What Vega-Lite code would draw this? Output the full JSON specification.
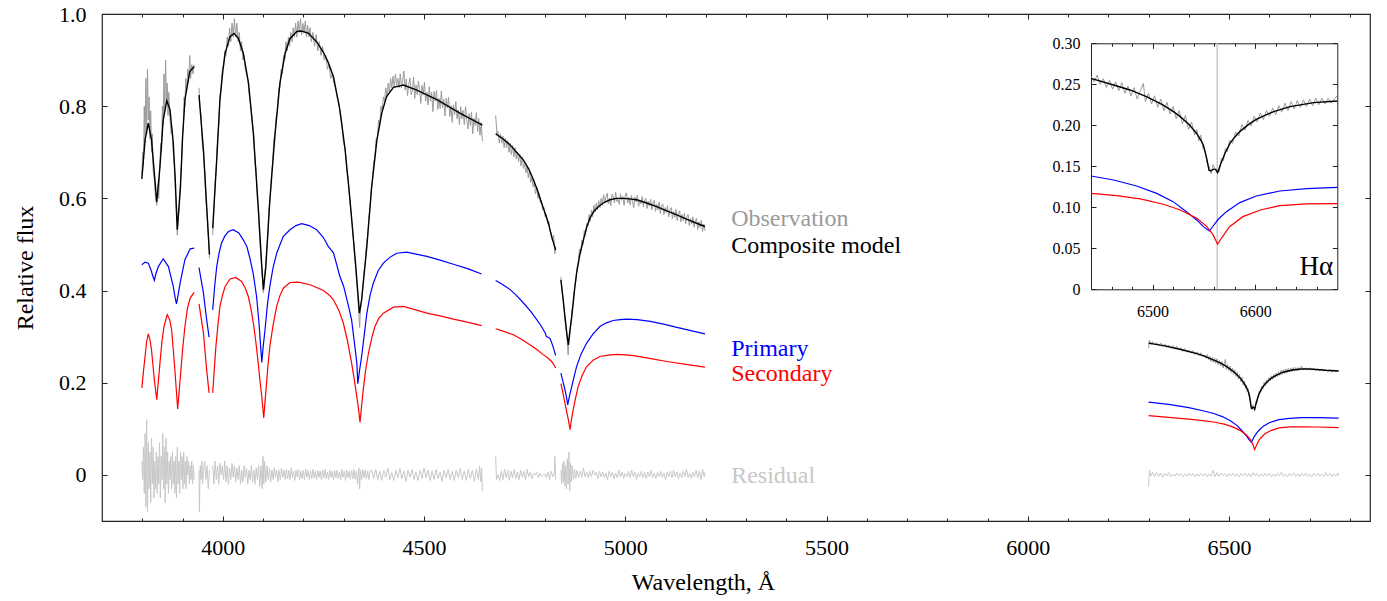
{
"$schema": "https://vega.github.io/schema/vega-lite/v6.json",
"width": 1268, "height": 507,
"autosize": {"type": "none"},
"padding": {"left": 102, "top": 14, "right": 17, "bottom": 80},
"background": "white",
"config": {
  "view": {"stroke": "#222", "strokeWidth": 1.2},
  "font": "Liberation Serif",
  "axis": {"grid": false, "labelFont": "Liberation Serif", "titleFont": "Liberation Serif", "labelColor": "#000", "titleColor": "#000", "tickColor": "#222", "domainColor": "#222", "titleFontWeight": "normal", "labelFontWeight": "normal", "tickWidth": 1}
},
"datasets": {
"comp": [
{"g":"A","w":3799,"f":0.642},{"g":"A","w":3807,"f":0.727},{"g":"A","w":3815,"f":0.763},{"g":"A","w":3823,"f":0.727},{"g":"A","w":3830,"f":0.655},{"g":"A","w":3836,"f":0.592},{"g":"A","w":3844,"f":0.669},{"g":"A","w":3852,"f":0.770},{"g":"A","w":3861,"f":0.812},{"g":"A","w":3869,"f":0.792},{"g":"A","w":3877,"f":0.720},{"g":"A","w":3882,"f":0.640},{"g":"A","w":3887,"f":0.532},{"g":"A","w":3895,"f":0.626},{"g":"A","w":3900,"f":0.730},{"g":"A","w":3906,"f":0.814},{"g":"A","w":3918,"f":0.875},{"g":"A","w":3929,"f":0.886},
{"g":"B","w":3941,"f":0.824},{"g":"B","w":3946,"f":0.770},{"g":"B","w":3952,"f":0.705},{"g":"B","w":3960,"f":0.582},{"g":"B","w":3967,"f":0.478},
{"g":"C","w":3975,"f":0.535},{"g":"C","w":3980,"f":0.610},{"g":"C","w":3985,"f":0.684},{"g":"C","w":3993,"f":0.814},{"g":"C","w":4000,"f":0.875},{"g":"C","w":4006,"f":0.915},{"g":"C","w":4018,"f":0.951},{"g":"C","w":4028,"f":0.958},{"g":"C","w":4039,"f":0.947},{"g":"C","w":4051,"f":0.915},{"g":"C","w":4064,"f":0.850},{"g":"C","w":4076,"f":0.741},{"g":"C","w":4088,"f":0.582},{"g":"C","w":4097,"f":0.452},{"g":"C","w":4101,"f":0.402},{"g":"C","w":4107,"f":0.452},{"g":"C","w":4117,"f":0.597},{"g":"C","w":4130,"f":0.741},{"g":"C","w":4142,"f":0.850},{"g":"C","w":4155,"f":0.915},{"g":"C","w":4167,"f":0.947},{"g":"C","w":4184,"f":0.962},{"g":"C","w":4196,"f":0.963},{"g":"C","w":4213,"f":0.958},{"g":"C","w":4233,"f":0.940},{"g":"C","w":4250,"f":0.917},{"g":"C","w":4262,"f":0.895},{"g":"C","w":4275,"f":0.864},{"g":"C","w":4291,"f":0.792},{"g":"C","w":4304,"f":0.705},{"g":"C","w":4316,"f":0.597},{"g":"C","w":4329,"f":0.467},{"g":"C","w":4337,"f":0.380},{"g":"C","w":4339.5,"f":0.351},{"g":"C","w":4345,"f":0.380},{"g":"C","w":4358,"f":0.496},{"g":"C","w":4370,"f":0.626},{"g":"C","w":4383,"f":0.727},{"g":"C","w":4395,"f":0.785},{"g":"C","w":4407,"f":0.821},{"g":"C","w":4424,"f":0.841},{"g":"C","w":4449,"f":0.846},{"g":"C","w":4482,"f":0.835},{"g":"C","w":4532,"f":0.814},{"g":"C","w":4589,"f":0.785},{"g":"C","w":4645,"f":0.759},
{"g":"D","w":4678,"f":0.740},{"g":"D","w":4695,"f":0.730},{"g":"D","w":4714,"f":0.716},{"g":"D","w":4730,"f":0.700},{"g":"D","w":4747,"f":0.683},{"g":"D","w":4760,"f":0.664},{"g":"D","w":4772,"f":0.640},{"g":"D","w":4782,"f":0.617},{"g":"D","w":4792,"f":0.590},{"g":"D","w":4801,"f":0.567},{"g":"D","w":4809,"f":0.546},{"g":"D","w":4817,"f":0.517},{"g":"D","w":4827,"f":0.488},
{"g":"E","w":4840,"f":0.423},{"g":"E","w":4845,"f":0.385},{"g":"E","w":4850,"f":0.344},{"g":"E","w":4855,"f":0.305},{"g":"E","w":4858.5,"f":0.282},{"g":"E","w":4862,"f":0.310},{"g":"E","w":4867,"f":0.344},{"g":"E","w":4873,"f":0.395},{"g":"E","w":4879,"f":0.438},{"g":"E","w":4887,"f":0.478},{"g":"E","w":4896,"f":0.510},{"g":"E","w":4904,"f":0.537},{"g":"E","w":4912,"f":0.557},{"g":"E","w":4922,"f":0.572},{"g":"E","w":4933,"f":0.582},{"g":"E","w":4947,"f":0.591},{"g":"E","w":4962,"f":0.597},{"g":"E","w":4978,"f":0.600},{"g":"E","w":4995,"f":0.600},{"g":"E","w":5010,"f":0.599},{"g":"E","w":5028,"f":0.597},{"g":"E","w":5053,"f":0.590},{"g":"E","w":5078,"f":0.582},{"g":"E","w":5103,"f":0.573},{"g":"E","w":5128,"f":0.564},{"g":"E","w":5152,"f":0.555},{"g":"E","w":5177,"f":0.546},{"g":"E","w":5198,"f":0.539},
{"g":"F","w":6300,"f":0.286},{"g":"F","w":6340,"f":0.280},{"g":"F","w":6380,"f":0.272},{"g":"F","w":6420,"f":0.263},{"g":"F","w":6440,"f":0.2573},{"g":"F","w":6462,"f":0.2492},{"g":"F","w":6478,"f":0.2431},{"g":"F","w":6494,"f":0.235},{"g":"F","w":6510,"f":0.2248},{"g":"F","w":6520,"f":0.217},{"g":"F","w":6527,"f":0.2106},{"g":"F","w":6536,"f":0.2004},{"g":"F","w":6543,"f":0.19},{"g":"F","w":6547,"f":0.182},{"g":"F","w":6549.5,"f":0.176},{"g":"F","w":6552.7,"f":0.16},{"g":"F","w":6555,"f":0.145},{"g":"F","w":6557,"f":0.1445},{"g":"F","w":6559.5,"f":0.1465},{"g":"F","w":6561.5,"f":0.146},{"g":"F","w":6563.4,"f":0.1423},{"g":"F","w":6566,"f":0.1516},{"g":"F","w":6570.6,"f":0.1659},{"g":"F","w":6575.4,"f":0.178},{"g":"F","w":6580,"f":0.1855},{"g":"F","w":6585,"f":0.1923},{"g":"F","w":6593,"f":0.2005},{"g":"F","w":6601,"f":0.2073},{"g":"F","w":6610,"f":0.2125},{"g":"F","w":6618,"f":0.2167},{"g":"F","w":6634,"f":0.2228},{"g":"F","w":6657,"f":0.2276},{"g":"F","w":6680,"f":0.2297},{"g":"F","w":6700,"f":0.2298},{"g":"F","w":6740,"f":0.227},{"g":"F","w":6772,"f":0.2255}
],
"prim": [
{"g":"A","w":3799,"f":0.456},{"g":"A","w":3807,"f":0.4617},{"g":"A","w":3815,"f":0.4595},{"g":"A","w":3823,"f":0.4414},{"g":"A","w":3826,"f":0.432},{"g":"A","w":3830,"f":0.422},{"g":"A","w":3834,"f":0.437},{"g":"A","w":3840,"f":0.452},{"g":"A","w":3852,"f":0.469},{"g":"A","w":3865,"f":0.452},{"g":"A","w":3877,"f":0.409},{"g":"A","w":3881,"f":0.388},{"g":"A","w":3885,"f":0.371},{"g":"A","w":3889,"f":0.390},{"g":"A","w":3894,"f":0.416},{"g":"A","w":3906,"f":0.467},{"g":"A","w":3919,"f":0.4906},{"g":"A","w":3929,"f":0.492},
{"g":"B","w":3941,"f":0.450},{"g":"B","w":3946,"f":0.425},{"g":"B","w":3952,"f":0.3945},{"g":"B","w":3960,"f":0.3367},{"g":"B","w":3966,"f":0.299},
{"g":"C","w":3975,"f":0.358},{"g":"C","w":3980,"f":0.410},{"g":"C","w":3985,"f":0.452},{"g":"C","w":3991,"f":0.482},{"g":"C","w":3997,"f":0.503},{"g":"C","w":4005,"f":0.518},{"g":"C","w":4014,"f":0.528},{"g":"C","w":4026,"f":0.532},{"g":"C","w":4040,"f":0.525},{"g":"C","w":4051,"f":0.510},{"g":"C","w":4060,"f":0.495},{"g":"C","w":4068,"f":0.468},{"g":"C","w":4076,"f":0.435},{"g":"C","w":4084,"f":0.387},{"g":"C","w":4090,"f":0.33},{"g":"C","w":4094,"f":0.28},{"g":"C","w":4097,"f":0.244},{"g":"C","w":4100,"f":0.275},{"g":"C","w":4105,"f":0.315},{"g":"C","w":4111,"f":0.37},{"g":"C","w":4117,"f":0.409},{"g":"C","w":4125,"f":0.450},{"g":"C","w":4134,"f":0.481},{"g":"C","w":4150,"f":0.517},{"g":"C","w":4167,"f":0.532},{"g":"C","w":4182,"f":0.541},{"g":"C","w":4196,"f":0.545},{"g":"C","w":4215,"f":0.541},{"g":"C","w":4233,"f":0.532},{"g":"C","w":4250,"f":0.515},{"g":"C","w":4262,"f":0.496},{"g":"C","w":4275,"f":0.482},{"g":"C","w":4291,"f":0.4305},{"g":"C","w":4300,"f":0.41},{"g":"C","w":4310,"f":0.375},{"g":"C","w":4320,"f":0.337},{"g":"C","w":4328,"f":0.28},{"g":"C","w":4333,"f":0.243},{"g":"C","w":4335.5,"f":0.198},{"g":"C","w":4340,"f":0.228},{"g":"C","w":4345,"f":0.257},{"g":"C","w":4358,"f":0.351},{"g":"C","w":4366,"f":0.39},{"g":"C","w":4374,"f":0.416},{"g":"C","w":4386,"f":0.443},{"g":"C","w":4399,"f":0.4596},{"g":"C","w":4415,"f":0.472},{"g":"C","w":4432,"f":0.481},{"g":"C","w":4457,"f":0.4834},{"g":"C","w":4480,"f":0.479},{"g":"C","w":4507,"f":0.474},{"g":"C","w":4540,"f":0.466},{"g":"C","w":4573,"f":0.457},{"g":"C","w":4610,"f":0.447},{"g":"C","w":4643,"f":0.436},
{"g":"D","w":4678,"f":0.422},{"g":"D","w":4695,"f":0.413},{"g":"D","w":4714,"f":0.402},{"g":"D","w":4730,"f":0.389},{"g":"D","w":4747,"f":0.373},{"g":"D","w":4765,"f":0.355},{"g":"D","w":4780,"f":0.337},{"g":"D","w":4791,"f":0.323},{"g":"D","w":4801,"f":0.308},{"g":"D","w":4804,"f":0.300},{"g":"D","w":4809,"f":0.298},{"g":"D","w":4813,"f":0.296},{"g":"D","w":4817,"f":0.287},{"g":"D","w":4822,"f":0.274},{"g":"D","w":4827,"f":0.259},
{"g":"E","w":4840,"f":0.221},{"g":"E","w":4845,"f":0.203},{"g":"E","w":4850,"f":0.185},{"g":"E","w":4854,"f":0.168},{"g":"E","w":4857,"f":0.152},{"g":"E","w":4861,"f":0.170},{"g":"E","w":4867,"f":0.192},{"g":"E","w":4873,"f":0.214},{"g":"E","w":4879,"f":0.235},{"g":"E","w":4890,"f":0.262},{"g":"E","w":4904,"f":0.286},{"g":"E","w":4920,"f":0.306},{"g":"E","w":4937,"f":0.322},{"g":"E","w":4953,"f":0.330},{"g":"E","w":4970,"f":0.335},{"g":"E","w":4987,"f":0.337},{"g":"E","w":5004,"f":0.338},{"g":"E","w":5030,"f":0.337},{"g":"E","w":5062,"f":0.333},{"g":"E","w":5095,"f":0.327},{"g":"E","w":5128,"f":0.320},{"g":"E","w":5163,"f":0.313},{"g":"E","w":5198,"f":0.306},
{"g":"F","w":6300,"f":0.158},{"g":"F","w":6350,"f":0.153},{"g":"F","w":6400,"f":0.146},{"g":"F","w":6440,"f":0.1382},{"g":"F","w":6462,"f":0.1333},{"g":"F","w":6484.5,"f":0.126},{"g":"F","w":6504,"f":0.117},{"g":"F","w":6520,"f":0.1069},{"g":"F","w":6533,"f":0.0947},{"g":"F","w":6543,"f":0.0846},{"g":"F","w":6549.5,"f":0.0764},{"g":"F","w":6555.3,"f":0.0711},{"g":"F","w":6559,"f":0.0772},{"g":"F","w":6564,"f":0.0854},{"g":"F","w":6572,"f":0.0947},{"g":"F","w":6585,"f":0.1057},{"g":"F","w":6601,"f":0.1138},{"g":"F","w":6624,"f":0.1199},{"g":"F","w":6650,"f":0.1228},{"g":"F","w":6680,"f":0.1244},{"g":"F","w":6720,"f":0.1245},{"g":"F","w":6772,"f":0.123}
],
"sec": [
{"g":"A","w":3799,"f":0.1886},{"g":"A","w":3803,"f":0.225},{"g":"A","w":3807,"f":0.257},{"g":"A","w":3811,"f":0.290},{"g":"A","w":3815,"f":0.306},{"g":"A","w":3819,"f":0.294},{"g":"A","w":3823,"f":0.2716},{"g":"A","w":3830,"f":0.2066},{"g":"A","w":3836,"f":0.163},{"g":"A","w":3844,"f":0.243},{"g":"A","w":3849,"f":0.29},{"g":"A","w":3854,"f":0.322},{"g":"A","w":3862,"f":0.3475},{"g":"A","w":3868,"f":0.337},{"g":"A","w":3873,"f":0.315},{"g":"A","w":3881,"f":0.228},{"g":"A","w":3888,"f":0.143},{"g":"A","w":3895.5,"f":0.221},{"g":"A","w":3900,"f":0.27},{"g":"A","w":3906,"f":0.322},{"g":"A","w":3912,"f":0.360},{"g":"A","w":3919,"f":0.3837},{"g":"A","w":3929,"f":0.396},
{"g":"B","w":3941,"f":0.371},{"g":"B","w":3946,"f":0.343},{"g":"B","w":3952,"f":0.308},{"g":"B","w":3960,"f":0.228},{"g":"B","w":3966,"f":0.178},
{"g":"C","w":3975,"f":0.178},{"g":"C","w":3979,"f":0.23},{"g":"C","w":3983,"f":0.279},{"g":"C","w":3988,"f":0.325},{"g":"C","w":3993,"f":0.3655},{"g":"C","w":4000,"f":0.392},{"g":"C","w":4006,"f":0.409},{"g":"C","w":4018,"f":0.425},{"g":"C","w":4032,"f":0.4284},{"g":"C","w":4047,"f":0.4197},{"g":"C","w":4056,"f":0.405},{"g":"C","w":4063.5,"f":0.387},{"g":"C","w":4070,"f":0.36},{"g":"C","w":4076,"f":0.3295},{"g":"C","w":4082,"f":0.29},{"g":"C","w":4088,"f":0.243},{"g":"C","w":4093,"f":0.20},{"g":"C","w":4097,"f":0.170},{"g":"C","w":4101.7,"f":0.1235},{"g":"C","w":4107.5,"f":0.185},{"g":"C","w":4112,"f":0.235},{"g":"C","w":4117,"f":0.279},{"g":"C","w":4125,"f":0.325},{"g":"C","w":4134,"f":0.3655},{"g":"C","w":4142,"f":0.389},{"g":"C","w":4150.5,"f":0.405},{"g":"C","w":4167,"f":0.4175},{"g":"C","w":4188,"f":0.4183},{"g":"C","w":4217,"f":0.4125},{"g":"C","w":4250,"f":0.400},{"g":"C","w":4265,"f":0.390},{"g":"C","w":4275,"f":0.380},{"g":"C","w":4288,"f":0.358},{"g":"C","w":4299.5,"f":0.3295},{"g":"C","w":4310,"f":0.29},{"g":"C","w":4320,"f":0.243},{"g":"C","w":4327,"f":0.205},{"g":"C","w":4333,"f":0.170},{"g":"C","w":4337,"f":0.145},{"g":"C","w":4341,"f":0.114},{"g":"C","w":4345,"f":0.150},{"g":"C","w":4349,"f":0.185},{"g":"C","w":4355,"f":0.228},{"g":"C","w":4362,"f":0.2645},{"g":"C","w":4370,"f":0.297},{"g":"C","w":4378,"f":0.322},{"g":"C","w":4388,"f":0.340},{"g":"C","w":4399,"f":0.351},{"g":"C","w":4424,"f":0.364},{"g":"C","w":4449,"f":0.3655},{"g":"C","w":4475,"f":0.359},{"g":"C","w":4507,"f":0.351},{"g":"C","w":4540,"f":0.345},{"g":"C","w":4573,"f":0.338},{"g":"C","w":4610,"f":0.331},{"g":"C","w":4643,"f":0.324},
{"g":"D","w":4678,"f":0.317},{"g":"D","w":4700,"f":0.311},{"g":"D","w":4722,"f":0.304},{"g":"D","w":4743,"f":0.294},{"g":"D","w":4763,"f":0.2825},{"g":"D","w":4780,"f":0.272},{"g":"D","w":4796,"f":0.261},{"g":"D","w":4807,"f":0.254},{"g":"D","w":4817,"f":0.246},{"g":"D","w":4822,"f":0.240},{"g":"D","w":4827,"f":0.232},
{"g":"E","w":4840,"f":0.198},{"g":"E","w":4845,"f":0.178},{"g":"E","w":4850,"f":0.156},{"g":"E","w":4855,"f":0.134},{"g":"E","w":4858.5,"f":0.120},{"g":"E","w":4862.7,"f":0.098},{"g":"E","w":4866,"f":0.118},{"g":"E","w":4869,"f":0.134},{"g":"E","w":4876,"f":0.165},{"g":"E","w":4883,"f":0.192},{"g":"E","w":4893,"f":0.216},{"g":"E","w":4904,"f":0.235},{"g":"E","w":4920,"f":0.249},{"g":"E","w":4937,"f":0.257},{"g":"E","w":4958,"f":0.260},{"g":"E","w":4979,"f":0.2615},{"g":"E","w":5000,"f":0.2605},{"g":"E","w":5020,"f":0.2586},{"g":"E","w":5060,"f":0.253},{"g":"E","w":5103,"f":0.246},{"g":"E","w":5150,"f":0.240},{"g":"E","w":5198,"f":0.234},
{"g":"F","w":6300,"f":0.1285},{"g":"F","w":6350,"f":0.125},{"g":"F","w":6400,"f":0.121},{"g":"F","w":6440,"f":0.1171},{"g":"F","w":6465,"f":0.1142},{"g":"F","w":6488,"f":0.1102},{"g":"F","w":6510.5,"f":0.1037},{"g":"F","w":6527,"f":0.0967},{"g":"F","w":6543,"f":0.0866},{"g":"F","w":6553,"f":0.0764},{"g":"F","w":6559,"f":0.0663},{"g":"F","w":6563.4,"f":0.0549},{"g":"F","w":6567,"f":0.0622},{"g":"F","w":6575,"f":0.0764},{"g":"F","w":6588,"f":0.0886},{"g":"F","w":6605,"f":0.0967},{"g":"F","w":6624,"f":0.102},{"g":"F","w":6650,"f":0.1041},{"g":"F","w":6680,"f":0.1045},{"g":"F","w":6720,"f":0.104},{"g":"F","w":6772,"f":0.1025}
],
"obs": [
{"g":"A","w":3799,"f":0.65},{"g":"A","w":3801,"f":0.70},{"g":"A","w":3803,"f":0.67},{"g":"A","w":3805,"f":0.80},{"g":"A","w":3807,"f":0.72},{"g":"A","w":3809,"f":0.86},{"g":"A","w":3811,"f":0.74},{"g":"A","w":3813,"f":0.88},{"g":"A","w":3815,"f":0.77},{"g":"A","w":3817,"f":0.82},{"g":"A","w":3819,"f":0.73},{"g":"A","w":3821,"f":0.79},{"g":"A","w":3823,"f":0.70},{"g":"A","w":3825,"f":0.74},{"g":"A","w":3827,"f":0.66},{"g":"A","w":3830,"f":0.64},{"g":"A","w":3833,"f":0.60},{"g":"A","w":3836,"f":0.585},{"g":"A","w":3839,"f":0.63},{"g":"A","w":3841,"f":0.60},{"g":"A","w":3844,"f":0.68},{"g":"A","w":3846,"f":0.72},{"g":"A","w":3848,"f":0.70},{"g":"A","w":3850,"f":0.80},{"g":"A","w":3852,"f":0.76},{"g":"A","w":3854,"f":0.87},{"g":"A","w":3856,"f":0.79},{"g":"A","w":3858,"f":0.90},{"g":"A","w":3860,"f":0.81},{"g":"A","w":3862,"f":0.85},{"g":"A","w":3864,"f":0.78},{"g":"A","w":3866,"f":0.83},{"g":"A","w":3869,"f":0.77},{"g":"A","w":3872,"f":0.74},{"g":"A","w":3875,"f":0.75},{"g":"A","w":3877,"f":0.70},{"g":"A","w":3880,"f":0.67},{"g":"A","w":3883,"f":0.60},{"g":"A","w":3885,"f":0.56},{"g":"A","w":3887,"f":0.52},{"g":"A","w":3889,"f":0.545},{"g":"A","w":3892,"f":0.58},{"g":"A","w":3895,"f":0.64},{"g":"A","w":3898,"f":0.68},{"g":"A","w":3900,"f":0.74},{"g":"A","w":3902,"f":0.75},{"g":"A","w":3904,"f":0.82},{"g":"A","w":3906,"f":0.80},{"g":"A","w":3908,"f":0.86},{"g":"A","w":3910,"f":0.83},{"g":"A","w":3913,"f":0.88},{"g":"A","w":3915,"f":0.85},{"g":"A","w":3918,"f":0.91},{"g":"A","w":3920,"f":0.86},{"g":"A","w":3923,"f":0.89},{"g":"A","w":3926,"f":0.87},{"g":"A","w":3929,"f":0.89},
{"g":"B","w":3941,"f":0.84},{"g":"B","w":3943,"f":0.80},{"g":"B","w":3946,"f":0.78},{"g":"B","w":3949,"f":0.72},{"g":"B","w":3952,"f":0.70},{"g":"B","w":3955,"f":0.66},{"g":"B","w":3958,"f":0.60},{"g":"B","w":3961,"f":0.57},{"g":"B","w":3964,"f":0.52},{"g":"B","w":3967,"f":0.47},
{"g":"C","w":3975,"f":0.52},{"g":"C","w":3978,"f":0.57},{"g":"C","w":3981,"f":0.63},{"g":"C","w":3984,"f":0.67},{"g":"C","w":3987,"f":0.73},{"g":"C","w":3990,"f":0.76},{"g":"C","w":3993,"f":0.82},{"g":"C","w":3996,"f":0.84},{"g":"C","w":3999,"f":0.88},{"g":"C","w":4002,"f":0.89},{"g":"C","w":4005,"f":0.92},{"g":"C","w":4008,"f":0.91},{"g":"C","w":4011,"f":0.95},{"g":"C","w":4014,"f":0.93},{"g":"C","w":4017,"f":0.97},{"g":"C","w":4020,"f":0.94},{"g":"C","w":4023,"f":0.98},{"g":"C","w":4026,"f":0.95},{"g":"C","w":4029,"f":0.99},{"g":"C","w":4032,"f":0.95},{"g":"C","w":4035,"f":0.98},{"g":"C","w":4038,"f":0.94},{"g":"C","w":4041,"f":0.96},{"g":"C","w":4044,"f":0.92},{"g":"C","w":4047,"f":0.94},{"g":"C","w":4050,"f":0.90},{"g":"C","w":4053,"f":0.91},{"g":"C","w":4056,"f":0.88},{"g":"C","w":4059,"f":0.87},{"g":"C","w":4062,"f":0.86},{"g":"C","w":4065,"f":0.83},{"g":"C","w":4068,"f":0.81},{"g":"C","w":4071,"f":0.79},{"g":"C","w":4074,"f":0.76},{"g":"C","w":4077,"f":0.74},{"g":"C","w":4080,"f":0.68},{"g":"C","w":4083,"f":0.66},{"g":"C","w":4086,"f":0.60},{"g":"C","w":4089,"f":0.57},{"g":"C","w":4092,"f":0.51},{"g":"C","w":4095,"f":0.47},{"g":"C","w":4098,"f":0.43},{"g":"C","w":4101,"f":0.395},{"g":"C","w":4103,"f":0.42},{"g":"C","w":4106,"f":0.45},{"g":"C","w":4109,"f":0.49},{"g":"C","w":4112,"f":0.52},{"g":"C","w":4115,"f":0.58},{"g":"C","w":4118,"f":0.60},{"g":"C","w":4121,"f":0.65},{"g":"C","w":4124,"f":0.68},{"g":"C","w":4127,"f":0.73},{"g":"C","w":4130,"f":0.74},{"g":"C","w":4133,"f":0.78},{"g":"C","w":4136,"f":0.79},{"g":"C","w":4139,"f":0.84},{"g":"C","w":4142,"f":0.84},{"g":"C","w":4145,"f":0.88},{"g":"C","w":4148,"f":0.87},{"g":"C","w":4151,"f":0.91},{"g":"C","w":4154,"f":0.90},{"g":"C","w":4157,"f":0.94},{"g":"C","w":4160,"f":0.92},{"g":"C","w":4163,"f":0.95},{"g":"C","w":4166,"f":0.93},{"g":"C","w":4169,"f":0.96},{"g":"C","w":4172,"f":0.94},{"g":"C","w":4175,"f":0.97},{"g":"C","w":4178,"f":0.95},{"g":"C","w":4181,"f":0.98},{"g":"C","w":4184,"f":0.95},{"g":"C","w":4187,"f":0.985},{"g":"C","w":4190,"f":0.96},{"g":"C","w":4193,"f":0.99},{"g":"C","w":4196,"f":0.955},{"g":"C","w":4199,"f":0.98},{"g":"C","w":4202,"f":0.96},{"g":"C","w":4205,"f":0.985},{"g":"C","w":4208,"f":0.95},{"g":"C","w":4211,"f":0.975},{"g":"C","w":4214,"f":0.95},{"g":"C","w":4217,"f":0.97},{"g":"C","w":4220,"f":0.94},{"g":"C","w":4224,"f":0.96},{"g":"C","w":4228,"f":0.93},{"g":"C","w":4232,"f":0.955},{"g":"C","w":4236,"f":0.92},{"g":"C","w":4240,"f":0.94},{"g":"C","w":4244,"f":0.91},{"g":"C","w":4248,"f":0.93},{"g":"C","w":4252,"f":0.90},{"g":"C","w":4256,"f":0.91},{"g":"C","w":4260,"f":0.88},{"g":"C","w":4264,"f":0.89},{"g":"C","w":4268,"f":0.86},{"g":"C","w":4272,"f":0.87},{"g":"C","w":4276,"f":0.85},{"g":"C","w":4280,"f":0.84},{"g":"C","w":4284,"f":0.82},{"g":"C","w":4288,"f":0.81},{"g":"C","w":4292,"f":0.78},{"g":"C","w":4296,"f":0.76},{"g":"C","w":4300,"f":0.72},{"g":"C","w":4304,"f":0.71},{"g":"C","w":4308,"f":0.66},{"g":"C","w":4312,"f":0.64},{"g":"C","w":4316,"f":0.59},{"g":"C","w":4320,"f":0.56},{"g":"C","w":4324,"f":0.52},{"g":"C","w":4328,"f":0.47},{"g":"C","w":4332,"f":0.43},{"g":"C","w":4335,"f":0.39},{"g":"C","w":4338,"f":0.35},{"g":"C","w":4340,"f":0.32},{"g":"C","w":4342,"f":0.36},{"g":"C","w":4345,"f":0.38},{"g":"C","w":4348,"f":0.41},{"g":"C","w":4351,"f":0.44},{"g":"C","w":4354,"f":0.46},{"g":"C","w":4357,"f":0.50},{"g":"C","w":4360,"f":0.52},{"g":"C","w":4363,"f":0.56},{"g":"C","w":4366,"f":0.58},{"g":"C","w":4369,"f":0.62},{"g":"C","w":4372,"f":0.64},{"g":"C","w":4375,"f":0.68},{"g":"C","w":4378,"f":0.69},{"g":"C","w":4381,"f":0.73},{"g":"C","w":4384,"f":0.73},{"g":"C","w":4387,"f":0.77},{"g":"C","w":4390,"f":0.76},{"g":"C","w":4393,"f":0.80},{"g":"C","w":4396,"f":0.79},{"g":"C","w":4399,"f":0.82},{"g":"C","w":4402,"f":0.81},{"g":"C","w":4405,"f":0.84},{"g":"C","w":4408,"f":0.82},{"g":"C","w":4411,"f":0.85},{"g":"C","w":4414,"f":0.83},{"g":"C","w":4417,"f":0.86},{"g":"C","w":4420,"f":0.84},{"g":"C","w":4423,"f":0.865},{"g":"C","w":4426,"f":0.84},{"g":"C","w":4429,"f":0.87},{"g":"C","w":4432,"f":0.845},{"g":"C","w":4435,"f":0.86},{"g":"C","w":4438,"f":0.84},{"g":"C","w":4441,"f":0.870},{"g":"C","w":4444,"f":0.840},{"g":"C","w":4447,"f":0.856},{"g":"C","w":4450,"f":0.876},{"g":"C","w":4453,"f":0.835},{"g":"C","w":4456,"f":0.859},{"g":"C","w":4459,"f":0.823},{"g":"C","w":4462,"f":0.847},{"g":"C","w":4465,"f":0.861},{"g":"C","w":4468,"f":0.825},{"g":"C","w":4471,"f":0.834},{"g":"C","w":4474,"f":0.863},{"g":"C","w":4477,"f":0.817},{"g":"C","w":4480,"f":0.846},{"g":"C","w":4483,"f":0.825},{"g":"C","w":4486,"f":0.854},{"g":"C","w":4489,"f":0.837},{"g":"C","w":4492,"f":0.806},{"g":"C","w":4495,"f":0.845},{"g":"C","w":4498,"f":0.824},{"g":"C","w":4501,"f":0.852},{"g":"C","w":4504,"f":0.811},{"g":"C","w":4507,"f":0.830},{"g":"C","w":4510,"f":0.803},{"g":"C","w":4513,"f":0.842},{"g":"C","w":4516,"f":0.811},{"g":"C","w":4519,"f":0.830},{"g":"C","w":4522,"f":0.788},{"g":"C","w":4525,"f":0.832},{"g":"C","w":4528,"f":0.811},{"g":"C","w":4531,"f":0.834},{"g":"C","w":4534,"f":0.793},{"g":"C","w":4537,"f":0.817},{"g":"C","w":4540,"f":0.795},{"g":"C","w":4543,"f":0.833},{"g":"C","w":4546,"f":0.797},{"g":"C","w":4549,"f":0.815},{"g":"C","w":4552,"f":0.779},{"g":"C","w":4555,"f":0.817},{"g":"C","w":4558,"f":0.796},{"g":"C","w":4561,"f":0.819},{"g":"C","w":4564,"f":0.778},{"g":"C","w":4567,"f":0.801},{"g":"C","w":4570,"f":0.765},{"g":"C","w":4573,"f":0.803},{"g":"C","w":4576,"f":0.782},{"g":"C","w":4579,"f":0.810},{"g":"C","w":4582,"f":0.773},{"g":"C","w":4585,"f":0.792},{"g":"C","w":4588,"f":0.760},{"g":"C","w":4591,"f":0.799},{"g":"C","w":4594,"f":0.773},{"g":"C","w":4597,"f":0.791},{"g":"C","w":4600,"f":0.760},{"g":"C","w":4603,"f":0.799},{"g":"C","w":4606,"f":0.772},{"g":"C","w":4609,"f":0.751},{"g":"C","w":4612,"f":0.784},{"g":"C","w":4615,"f":0.758},{"g":"C","w":4618,"f":0.787},{"g":"C","w":4621,"f":0.740},{"g":"C","w":4624,"f":0.774},{"g":"C","w":4627,"f":0.758},{"g":"C","w":4630,"f":0.786},{"g":"C","w":4633,"f":0.745},{"g":"C","w":4636,"f":0.773},{"g":"C","w":4639,"f":0.737},{"g":"C","w":4642,"f":0.765},{"g":"C","w":4645,"f":0.724},
{"g":"D","w":4678,"f":0.78},{"g":"D","w":4681,"f":0.74},{"g":"D","w":4684,"f":0.745},{"g":"D","w":4687,"f":0.72},{"g":"D","w":4690,"f":0.74},{"g":"D","w":4693,"f":0.72},{"g":"D","w":4696,"f":0.735},{"g":"D","w":4699,"f":0.71},{"g":"D","w":4702,"f":0.73},{"g":"D","w":4705,"f":0.71},{"g":"D","w":4708,"f":0.725},{"g":"D","w":4711,"f":0.70},{"g":"D","w":4714,"f":0.72},{"g":"D","w":4717,"f":0.695},{"g":"D","w":4720,"f":0.715},{"g":"D","w":4723,"f":0.69},{"g":"D","w":4726,"f":0.71},{"g":"D","w":4729,"f":0.685},{"g":"D","w":4732,"f":0.70},{"g":"D","w":4735,"f":0.68},{"g":"D","w":4738,"f":0.695},{"g":"D","w":4741,"f":0.67},{"g":"D","w":4744,"f":0.69},{"g":"D","w":4747,"f":0.665},{"g":"D","w":4750,"f":0.675},{"g":"D","w":4753,"f":0.655},{"g":"D","w":4756,"f":0.67},{"g":"D","w":4759,"f":0.645},{"g":"D","w":4762,"f":0.66},{"g":"D","w":4765,"f":0.635},{"g":"D","w":4768,"f":0.645},{"g":"D","w":4771,"f":0.625},{"g":"D","w":4774,"f":0.635},{"g":"D","w":4777,"f":0.61},{"g":"D","w":4780,"f":0.625},{"g":"D","w":4783,"f":0.60},{"g":"D","w":4786,"f":0.61},{"g":"D","w":4789,"f":0.59},{"g":"D","w":4792,"f":0.595},{"g":"D","w":4795,"f":0.575},{"g":"D","w":4798,"f":0.58},{"g":"D","w":4801,"f":0.56},{"g":"D","w":4804,"f":0.565},{"g":"D","w":4807,"f":0.545},{"g":"D","w":4810,"f":0.55},{"g":"D","w":4813,"f":0.53},{"g":"D","w":4816,"f":0.525},{"g":"D","w":4819,"f":0.51},{"g":"D","w":4822,"f":0.52},{"g":"D","w":4825,"f":0.48},{"g":"D","w":4827,"f":0.495},
{"g":"E","w":4840,"f":0.43},{"g":"E","w":4843,"f":0.40},{"g":"E","w":4846,"f":0.38},{"g":"E","w":4849,"f":0.35},{"g":"E","w":4852,"f":0.32},{"g":"E","w":4855,"f":0.30},{"g":"E","w":4858,"f":0.26},{"g":"E","w":4860,"f":0.29},{"g":"E","w":4862,"f":0.30},{"g":"E","w":4865,"f":0.33},{"g":"E","w":4868,"f":0.36},{"g":"E","w":4871,"f":0.37},{"g":"E","w":4874,"f":0.41},{"g":"E","w":4877,"f":0.42},{"g":"E","w":4880,"f":0.45},{"g":"E","w":4883,"f":0.46},{"g":"E","w":4886,"f":0.49},{"g":"E","w":4889,"f":0.48},{"g":"E","w":4892,"f":0.51},{"g":"E","w":4895,"f":0.50},{"g":"E","w":4898,"f":0.53},{"g":"E","w":4901,"f":0.52},{"g":"E","w":4904,"f":0.545},{"g":"E","w":4907,"f":0.54},{"g":"E","w":4910,"f":0.565},{"g":"E","w":4913,"f":0.55},{"g":"E","w":4916,"f":0.575},{"g":"E","w":4919,"f":0.56},{"g":"E","w":4922,"f":0.585},{"g":"E","w":4925,"f":0.57},{"g":"E","w":4928,"f":0.59},{"g":"E","w":4931,"f":0.575},{"g":"E","w":4934,"f":0.595},{"g":"E","w":4937,"f":0.58},{"g":"E","w":4940,"f":0.600},{"g":"E","w":4943,"f":0.585},{"g":"E","w":4946,"f":0.608},{"g":"E","w":4949,"f":0.590},{"g":"E","w":4952,"f":0.603},{"g":"E","w":4955,"f":0.611},{"g":"E","w":4958,"f":0.588},{"g":"E","w":4961,"f":0.600},{"g":"E","w":4964,"f":0.584},{"g":"E","w":4967,"f":0.609},{"g":"E","w":4970,"f":0.604},{"g":"E","w":4973,"f":0.590},{"g":"E","w":4976,"f":0.613},{"g":"E","w":4979,"f":0.593},{"g":"E","w":4982,"f":0.598},{"g":"E","w":4985,"f":0.587},{"g":"E","w":4988,"f":0.610},{"g":"E","w":4991,"f":0.596},{"g":"E","w":4994,"f":0.604},{"g":"E","w":4997,"f":0.585},{"g":"E","w":5000,"f":0.607},{"g":"E","w":5003,"f":0.612},{"g":"E","w":5006,"f":0.590},{"g":"E","w":5009,"f":0.602},{"g":"E","w":5012,"f":0.586},{"g":"E","w":5015,"f":0.606},{"g":"E","w":5018,"f":0.593},{"g":"E","w":5021,"f":0.580},{"g":"E","w":5024,"f":0.603},{"g":"E","w":5027,"f":0.592},{"g":"E","w":5030,"f":0.607},{"g":"E","w":5033,"f":0.583},{"g":"E","w":5036,"f":0.597},{"g":"E","w":5039,"f":0.588},{"g":"E","w":5042,"f":0.604},{"g":"E","w":5045,"f":0.581},{"g":"E","w":5048,"f":0.597},{"g":"E","w":5051,"f":0.600},{"g":"E","w":5054,"f":0.578},{"g":"E","w":5057,"f":0.594},{"g":"E","w":5060,"f":0.583},{"g":"E","w":5063,"f":0.598},{"g":"E","w":5066,"f":0.575},{"g":"E","w":5069,"f":0.590},{"g":"E","w":5072,"f":0.596},{"g":"E","w":5075,"f":0.572},{"g":"E","w":5078,"f":0.587},{"g":"E","w":5081,"f":0.575},{"g":"E","w":5084,"f":0.592},{"g":"E","w":5087,"f":0.567},{"g":"E","w":5090,"f":0.583},{"g":"E","w":5093,"f":0.588},{"g":"E","w":5096,"f":0.565},{"g":"E","w":5099,"f":0.580},{"g":"E","w":5102,"f":0.569},{"g":"E","w":5105,"f":0.584},{"g":"E","w":5108,"f":0.560},{"g":"E","w":5111,"f":0.575},{"g":"E","w":5114,"f":0.580},{"g":"E","w":5117,"f":0.556},{"g":"E","w":5120,"f":0.572},{"g":"E","w":5123,"f":0.559},{"g":"E","w":5126,"f":0.576},{"g":"E","w":5129,"f":0.552},{"g":"E","w":5132,"f":0.568},{"g":"E","w":5135,"f":0.573},{"g":"E","w":5138,"f":0.549},{"g":"E","w":5141,"f":0.565},{"g":"E","w":5144,"f":0.552},{"g":"E","w":5147,"f":0.568},{"g":"E","w":5150,"f":0.545},{"g":"E","w":5153,"f":0.560},{"g":"E","w":5156,"f":0.565},{"g":"E","w":5159,"f":0.541},{"g":"E","w":5162,"f":0.557},{"g":"E","w":5165,"f":0.544},{"g":"E","w":5168,"f":0.560},{"g":"E","w":5171,"f":0.537},{"g":"E","w":5174,"f":0.552},{"g":"E","w":5177,"f":0.557},{"g":"E","w":5180,"f":0.533},{"g":"E","w":5183,"f":0.549},{"g":"E","w":5186,"f":0.537},{"g":"E","w":5189,"f":0.553},{"g":"E","w":5192,"f":0.528},{"g":"E","w":5195,"f":0.544},{"g":"E","w":5198,"f":0.530},
{"g":"F","w":6300,"f":0.275},{"g":"F","w":6302,"f":0.292},{"g":"F","w":6306,"f":0.283},{"g":"F","w":6310,"f":0.289},{"g":"F","w":6315,"f":0.282},{"g":"F","w":6320,"f":0.287},{"g":"F","w":6325,"f":0.280},{"g":"F","w":6330,"f":0.286},{"g":"F","w":6335,"f":0.279},{"g":"F","w":6340,"f":0.284},{"g":"F","w":6345,"f":0.277},{"g":"F","w":6350,"f":0.282},{"g":"F","w":6355,"f":0.275},{"g":"F","w":6360,"f":0.281},{"g":"F","w":6365,"f":0.273},{"g":"F","w":6370,"f":0.279},{"g":"F","w":6375,"f":0.271},{"g":"F","w":6380,"f":0.276},{"g":"F","w":6385,"f":0.268},{"g":"F","w":6390,"f":0.274},{"g":"F","w":6395,"f":0.266},{"g":"F","w":6400,"f":0.271},{"g":"F","w":6405,"f":0.264},{"g":"F","w":6410,"f":0.270},{"g":"F","w":6415,"f":0.261},{"g":"F","w":6420,"f":0.267},{"g":"F","w":6425,"f":0.259},{"g":"F","w":6430,"f":0.265},{"g":"F","w":6435,"f":0.257},{"g":"F","w":6440,"f":0.260},{"g":"F","w":6443,"f":0.253},{"g":"F","w":6446,"f":0.261},{"g":"F","w":6449,"f":0.250},{"g":"F","w":6452,"f":0.257},{"g":"F","w":6455,"f":0.246},{"g":"F","w":6458,"f":0.255},{"g":"F","w":6461,"f":0.244},{"g":"F","w":6464,"f":0.253},{"g":"F","w":6467,"f":0.242},{"g":"F","w":6470,"f":0.252},{"g":"F","w":6473,"f":0.239},{"g":"F","w":6476,"f":0.248},{"g":"F","w":6479,"f":0.236},{"g":"F","w":6482,"f":0.246},{"g":"F","w":6485,"f":0.232},{"g":"F","w":6488,"f":0.242},{"g":"F","w":6491,"f":0.251},{"g":"F","w":6493,"f":0.229},{"g":"F","w":6496,"f":0.239},{"g":"F","w":6499,"f":0.226},{"g":"F","w":6502,"f":0.236},{"g":"F","w":6505,"f":0.222},{"g":"F","w":6508,"f":0.232},{"g":"F","w":6511,"f":0.218},{"g":"F","w":6514,"f":0.228},{"g":"F","w":6517,"f":0.214},{"g":"F","w":6520,"f":0.223},{"g":"F","w":6523,"f":0.208},{"g":"F","w":6526,"f":0.218},{"g":"F","w":6529,"f":0.202},{"g":"F","w":6532,"f":0.212},{"g":"F","w":6535,"f":0.195},{"g":"F","w":6538,"f":0.204},{"g":"F","w":6541,"f":0.188},{"g":"F","w":6543,"f":0.195},{"g":"F","w":6545,"f":0.181},{"g":"F","w":6547,"f":0.188},{"g":"F","w":6549,"f":0.172},{"g":"F","w":6551,"f":0.170},{"g":"F","w":6553,"f":0.155},{"g":"F","w":6555,"f":0.150},{"g":"F","w":6557,"f":0.141},{"g":"F","w":6559,"f":0.152},{"g":"F","w":6561,"f":0.147},{"g":"F","w":6563,"f":0.146},{"g":"F","w":6565,"f":0.143},{"g":"F","w":6567,"f":0.160},{"g":"F","w":6569,"f":0.157},{"g":"F","w":6571,"f":0.172},{"g":"F","w":6573,"f":0.168},{"g":"F","w":6575,"f":0.182},{"g":"F","w":6578,"f":0.178},{"g":"F","w":6581,"f":0.192},{"g":"F","w":6584,"f":0.187},{"g":"F","w":6587,"f":0.201},{"g":"F","w":6590,"f":0.194},{"g":"F","w":6593,"f":0.206},{"g":"F","w":6596,"f":0.199},{"g":"F","w":6599,"f":0.211},{"g":"F","w":6602,"f":0.204},{"g":"F","w":6605,"f":0.215},{"g":"F","w":6608,"f":0.207},{"g":"F","w":6611,"f":0.218},{"g":"F","w":6614,"f":0.211},{"g":"F","w":6617,"f":0.221},{"g":"F","w":6620,"f":0.213},{"g":"F","w":6623,"f":0.224},{"g":"F","w":6626,"f":0.216},{"g":"F","w":6629,"f":0.227},{"g":"F","w":6632,"f":0.218},{"g":"F","w":6635,"f":0.229},{"g":"F","w":6638,"f":0.220},{"g":"F","w":6641,"f":0.230},{"g":"F","w":6644,"f":0.222},{"g":"F","w":6647,"f":0.231},{"g":"F","w":6650,"f":0.223},{"g":"F","w":6653,"f":0.232},{"g":"F","w":6656,"f":0.224},{"g":"F","w":6659,"f":0.233},{"g":"F","w":6662,"f":0.225},{"g":"F","w":6665,"f":0.233},{"g":"F","w":6668,"f":0.226},{"g":"F","w":6671,"f":0.233},{"g":"F","w":6674,"f":0.227},{"g":"F","w":6677,"f":0.232},{"g":"F","w":6680,"f":0.236},{"g":"F","w":6685,"f":0.228},{"g":"F","w":6690,"f":0.232},{"g":"F","w":6695,"f":0.228},{"g":"F","w":6700,"f":0.232},{"g":"F","w":6705,"f":0.228},{"g":"F","w":6710,"f":0.231},{"g":"F","w":6715,"f":0.227},{"g":"F","w":6720,"f":0.230},{"g":"F","w":6725,"f":0.226},{"g":"F","w":6730,"f":0.230},{"g":"F","w":6735,"f":0.225},{"g":"F","w":6740,"f":0.229},{"g":"F","w":6745,"f":0.224},{"g":"F","w":6750,"f":0.228},{"g":"F","w":6755,"f":0.223},{"g":"F","w":6760,"f":0.228},{"g":"F","w":6765,"f":0.224},{"g":"F","w":6770,"f":0.227},{"g":"F","w":6772,"f":0.224}
],
"res": [
{"g":"A","w":3799,"f":0.03},{"g":"A","w":3801,"f":-0.01},{"g":"A","w":3803,"f":0.06},{"g":"A","w":3805,"f":-0.04},{"g":"A","w":3807,"f":0.09},{"g":"A","w":3809,"f":-0.07},{"g":"A","w":3811,"f":0.12},{"g":"A","w":3813,"f":-0.08},{"g":"A","w":3815,"f":0.07},{"g":"A","w":3817,"f":-0.03},{"g":"A","w":3819,"f":0.05},{"g":"A","w":3821,"f":-0.06},{"g":"A","w":3823,"f":0.08},{"g":"A","w":3825,"f":-0.02},{"g":"A","w":3827,"f":0.06},{"g":"A","w":3829,"f":-0.05},{"g":"A","w":3831,"f":0.03},{"g":"A","w":3833,"f":-0.03},{"g":"A","w":3835,"f":0.05},{"g":"A","w":3837,"f":-0.04},{"g":"A","w":3839,"f":0.04},{"g":"A","w":3841,"f":-0.02},{"g":"A","w":3843,"f":0.07},{"g":"A","w":3845,"f":-0.05},{"g":"A","w":3847,"f":0.04},{"g":"A","w":3849,"f":-0.01},{"g":"A","w":3851,"f":0.09},{"g":"A","w":3853,"f":-0.03},{"g":"A","w":3855,"f":0.06},{"g":"A","w":3857,"f":-0.06},{"g":"A","w":3859,"f":0.08},{"g":"A","w":3861,"f":-0.02},{"g":"A","w":3863,"f":0.05},{"g":"A","w":3865,"f":-0.04},{"g":"A","w":3867,"f":0.03},{"g":"A","w":3869,"f":-0.01},{"g":"A","w":3871,"f":0.04},{"g":"A","w":3873,"f":-0.03},{"g":"A","w":3875,"f":0.05},{"g":"A","w":3877,"f":-0.02},{"g":"A","w":3879,"f":0.03},{"g":"A","w":3881,"f":-0.04},{"g":"A","w":3883,"f":0.04},{"g":"A","w":3885,"f":-0.05},{"g":"A","w":3887,"f":0.06},{"g":"A","w":3889,"f":-0.02},{"g":"A","w":3891,"f":0.03},{"g":"A","w":3893,"f":-0.04},{"g":"A","w":3895,"f":0.05},{"g":"A","w":3897,"f":-0.01},{"g":"A","w":3899,"f":0.04},{"g":"A","w":3901,"f":-0.03},{"g":"A","w":3903,"f":0.05},{"g":"A","w":3905,"f":-0.02},{"g":"A","w":3907,"f":0.03},{"g":"A","w":3909,"f":-0.03},{"g":"A","w":3911,"f":0.04},{"g":"A","w":3913,"f":0.0},{"g":"A","w":3915,"f":0.03},{"g":"A","w":3917,"f":-0.02},{"g":"A","w":3919,"f":0.02},{"g":"A","w":3921,"f":-0.01},{"g":"A","w":3923,"f":0.03},{"g":"A","w":3925,"f":-0.02},{"g":"A","w":3927,"f":0.02},{"g":"A","w":3929,"f":-0.01},
{"g":"B","w":3941,"f":0.01},{"g":"B","w":3942,"f":-0.08},{"g":"B","w":3944,"f":0.02},{"g":"B","w":3946,"f":-0.01},{"g":"B","w":3948,"f":0.03},{"g":"B","w":3950,"f":-0.02},{"g":"B","w":3952,"f":0.01},{"g":"B","w":3955,"f":0.03},{"g":"B","w":3958,"f":-0.01},{"g":"B","w":3961,"f":0.02},{"g":"B","w":3964,"f":-0.03},{"g":"B","w":3967,"f":0.01},
{"g":"C","w":3975,"f":0.02},{"g":"C","w":3978,"f":-0.02},{"g":"C","w":3981,"f":0.03},{"g":"C","w":3984,"f":-0.01},{"g":"C","w":3987,"f":0.02},{"g":"C","w":3990,"f":-0.02},{"g":"C","w":3993,"f":0.025},{"g":"C","w":3996,"f":0.0},{"g":"C","w":3999,"f":0.02},{"g":"C","w":4002,"f":-0.01},{"g":"C","w":4005,"f":0.03},{"g":"C","w":4008,"f":-0.015},{"g":"C","w":4011,"f":0.02},{"g":"C","w":4014,"f":-0.02},{"g":"C","w":4017,"f":0.015},{"g":"C","w":4020,"f":-0.01},{"g":"C","w":4023,"f":0.025},{"g":"C","w":4026,"f":-0.005},{"g":"C","w":4029,"f":0.02},{"g":"C","w":4032,"f":-0.015},{"g":"C","w":4035,"f":0.015},{"g":"C","w":4038,"f":-0.01},{"g":"C","w":4041,"f":0.02},{"g":"C","w":4044,"f":-0.02},{"g":"C","w":4047,"f":0.01},{"g":"C","w":4050,"f":-0.015},{"g":"C","w":4053,"f":0.02},{"g":"C","w":4056,"f":-0.005},{"g":"C","w":4059,"f":0.015},{"g":"C","w":4062,"f":-0.02},{"g":"C","w":4065,"f":0.01},{"g":"C","w":4068,"f":-0.01},{"g":"C","w":4071,"f":0.02},{"g":"C","w":4074,"f":-0.015},{"g":"C","w":4077,"f":0.01},{"g":"C","w":4080,"f":-0.02},{"g":"C","w":4083,"f":0.015},{"g":"C","w":4086,"f":-0.01},{"g":"C","w":4089,"f":0.02},{"g":"C","w":4092,"f":-0.025},{"g":"C","w":4095,"f":0.02},{"g":"C","w":4098,"f":-0.03},{"g":"C","w":4100,"f":0.04},{"g":"C","w":4102,"f":-0.02},{"g":"C","w":4104,"f":0.03},{"g":"C","w":4107,"f":-0.015},{"g":"C","w":4110,"f":0.02},{"g":"C","w":4113,"f":-0.01},{"g":"C","w":4116,"f":0.015},{"g":"C","w":4119,"f":-0.015},{"g":"C","w":4122,"f":0.01},{"g":"C","w":4125,"f":-0.01},{"g":"C","w":4128,"f":0.015},{"g":"C","w":4131,"f":-0.005},{"g":"C","w":4134,"f":0.01},{"g":"C","w":4137,"f":-0.015},{"g":"C","w":4140,"f":0.01},{"g":"C","w":4143,"f":-0.01},{"g":"C","w":4146,"f":0.015},{"g":"C","w":4149,"f":-0.005},{"g":"C","w":4152,"f":0.01},{"g":"C","w":4155,"f":-0.01},{"g":"C","w":4158,"f":0.012},{"g":"C","w":4161,"f":-0.008},{"g":"C","w":4164,"f":0.01},{"g":"C","w":4167,"f":-0.01},{"g":"C","w":4170,"f":0.015},{"g":"C","w":4173,"f":-0.005},{"g":"C","w":4176,"f":0.008},{"g":"C","w":4179,"f":-0.012},{"g":"C","w":4182,"f":0.01},{"g":"C","w":4185,"f":-0.005},{"g":"C","w":4188,"f":0.012},{"g":"C","w":4191,"f":-0.01},{"g":"C","w":4194,"f":0.008},{"g":"C","w":4197,"f":-0.008},{"g":"C","w":4200,"f":0.01},{"g":"C","w":4203,"f":-0.01},{"g":"C","w":4206,"f":0.012},{"g":"C","w":4209,"f":-0.005},{"g":"C","w":4212,"f":0.01},{"g":"C","w":4215,"f":-0.01},{"g":"C","w":4218,"f":0.008},{"g":"C","w":4221,"f":-0.008},{"g":"C","w":4224,"f":0.012},{"g":"C","w":4227,"f":-0.006},{"g":"C","w":4230,"f":0.008},{"g":"C","w":4233,"f":-0.01},{"g":"C","w":4236,"f":0.01},{"g":"C","w":4239,"f":-0.005},{"g":"C","w":4242,"f":0.008},{"g":"C","w":4245,"f":-0.01},{"g":"C","w":4248,"f":0.01},{"g":"C","w":4251,"f":-0.006},{"g":"C","w":4254,"f":0.012},{"g":"C","w":4257,"f":-0.008},{"g":"C","w":4260,"f":0.006},{"g":"C","w":4263,"f":-0.01},{"g":"C","w":4266,"f":0.01},{"g":"C","w":4269,"f":-0.005},{"g":"C","w":4272,"f":0.008},{"g":"C","w":4275,"f":-0.01},{"g":"C","w":4278,"f":0.01},{"g":"C","w":4281,"f":-0.006},{"g":"C","w":4284,"f":0.01},{"g":"C","w":4287,"f":-0.008},{"g":"C","w":4290,"f":0.006},{"g":"C","w":4293,"f":-0.01},{"g":"C","w":4296,"f":0.012},{"g":"C","w":4299,"f":-0.005},{"g":"C","w":4302,"f":0.008},{"g":"C","w":4305,"f":-0.012},{"g":"C","w":4308,"f":0.01},{"g":"C","w":4311,"f":-0.006},{"g":"C","w":4314,"f":0.008},{"g":"C","w":4317,"f":-0.01},{"g":"C","w":4320,"f":0.01},{"g":"C","w":4323,"f":-0.008},{"g":"C","w":4326,"f":0.012},{"g":"C","w":4329,"f":-0.01},{"g":"C","w":4332,"f":0.008},{"g":"C","w":4335,"f":-0.02},{"g":"C","w":4338,"f":0.015},{"g":"C","w":4340,"f":-0.03},{"g":"C","w":4342,"f":0.01},{"g":"C","w":4345,"f":-0.01},{"g":"C","w":4348,"f":0.012},{"g":"C","w":4351,"f":-0.006},{"g":"C","w":4354,"f":0.01},{"g":"C","w":4357,"f":-0.008},{"g":"C","w":4360,"f":0.008},{"g":"C","w":4363,"f":-0.01},{"g":"C","w":4366,"f":0.01},{"g":"C","w":4370,"f":0.01},{"g":"C","w":4375,"f":-0.008},{"g":"C","w":4380,"f":0.012},{"g":"C","w":4385,"f":-0.01},{"g":"C","w":4390,"f":0.008},{"g":"C","w":4395,"f":-0.012},{"g":"C","w":4400,"f":0.01},{"g":"C","w":4405,"f":-0.005},{"g":"C","w":4410,"f":0.015},{"g":"C","w":4415,"f":-0.01},{"g":"C","w":4420,"f":0.005},{"g":"C","w":4425,"f":-0.012},{"g":"C","w":4430,"f":0.01},{"g":"C","w":4435,"f":-0.006},{"g":"C","w":4440,"f":0.014},{"g":"C","w":4445,"f":-0.008},{"g":"C","w":4450,"f":0.008},{"g":"C","w":4455,"f":-0.014},{"g":"C","w":4460,"f":0.01},{"g":"C","w":4465,"f":-0.005},{"g":"C","w":4470,"f":0.012},{"g":"C","w":4475,"f":-0.01},{"g":"C","w":4480,"f":0.006},{"g":"C","w":4485,"f":-0.012},{"g":"C","w":4490,"f":0.01},{"g":"C","w":4495,"f":-0.008},{"g":"C","w":4500,"f":0.015},{"g":"C","w":4505,"f":-0.006},{"g":"C","w":4510,"f":0.01},{"g":"C","w":4515,"f":-0.012},{"g":"C","w":4520,"f":0.008},{"g":"C","w":4525,"f":-0.01},{"g":"C","w":4530,"f":0.012},{"g":"C","w":4535,"f":-0.008},{"g":"C","w":4540,"f":0.006},{"g":"C","w":4545,"f":-0.014},{"g":"C","w":4550,"f":0.01},{"g":"C","w":4555,"f":-0.006},{"g":"C","w":4560,"f":0.012},{"g":"C","w":4565,"f":-0.01},{"g":"C","w":4570,"f":0.008},{"g":"C","w":4575,"f":-0.012},{"g":"C","w":4580,"f":0.01},{"g":"C","w":4585,"f":-0.006},{"g":"C","w":4590,"f":0.014},{"g":"C","w":4595,"f":-0.01},{"g":"C","w":4600,"f":0.008},{"g":"C","w":4605,"f":-0.012},{"g":"C","w":4610,"f":0.012},{"g":"C","w":4615,"f":-0.008},{"g":"C","w":4620,"f":0.01},{"g":"C","w":4625,"f":-0.014},{"g":"C","w":4630,"f":0.012},{"g":"C","w":4635,"f":-0.01},{"g":"C","w":4638,"f":0.02},{"g":"C","w":4641,"f":-0.015},{"g":"C","w":4643,"f":0.015},{"g":"C","w":4645,"f":-0.035},
{"g":"D","w":4678,"f":0.04},{"g":"D","w":4680,"f":-0.01},{"g":"D","w":4684,"f":0.0},{"g":"D","w":4688,"f":-0.012},{"g":"D","w":4692,"f":0.008},{"g":"D","w":4696,"f":-0.01},{"g":"D","w":4700,"f":0.012},{"g":"D","w":4704,"f":-0.006},{"g":"D","w":4708,"f":0.01},{"g":"D","w":4712,"f":-0.012},{"g":"D","w":4716,"f":0.008},{"g":"D","w":4720,"f":-0.006},{"g":"D","w":4724,"f":0.012},{"g":"D","w":4728,"f":-0.008},{"g":"D","w":4732,"f":0.006},{"g":"D","w":4736,"f":-0.01},{"g":"D","w":4740,"f":0.01},{"g":"D","w":4744,"f":-0.005},{"g":"D","w":4748,"f":0.008},{"g":"D","w":4752,"f":-0.01},{"g":"D","w":4756,"f":0.012},{"g":"D","w":4760,"f":-0.004},{"g":"D","w":4764,"f":0.006},{"g":"D","w":4768,"f":-0.008},{"g":"D","w":4772,"f":0.004},{"g":"D","w":4776,"f":0.0},{"g":"D","w":4780,"f":0.006},{"g":"D","w":4784,"f":-0.006},{"g":"D","w":4788,"f":0.004},{"g":"D","w":4792,"f":-0.004},{"g":"D","w":4796,"f":0.0},{"g":"D","w":4800,"f":0.002},{"g":"D","w":4804,"f":-0.006},{"g":"D","w":4808,"f":0.006},{"g":"D","w":4812,"f":-0.01},{"g":"D","w":4816,"f":0.008},{"g":"D","w":4820,"f":-0.004},{"g":"D","w":4824,"f":0.002},{"g":"D","w":4825,"f":0.04},{"g":"D","w":4827,"f":-0.01},
{"g":"E","w":4840,"f":0.01},{"g":"E","w":4842,"f":-0.02},{"g":"E","w":4844,"f":0.025},{"g":"E","w":4846,"f":-0.015},{"g":"E","w":4848,"f":0.03},{"g":"E","w":4850,"f":-0.025},{"g":"E","w":4852,"f":0.02},{"g":"E","w":4854,"f":-0.03},{"g":"E","w":4856,"f":0.035},{"g":"E","w":4858,"f":-0.02},{"g":"E","w":4860,"f":0.05},{"g":"E","w":4862,"f":-0.035},{"g":"E","w":4864,"f":0.025},{"g":"E","w":4866,"f":-0.015},{"g":"E","w":4868,"f":0.02},{"g":"E","w":4871,"f":-0.01},{"g":"E","w":4874,"f":0.012},{"g":"E","w":4877,"f":-0.008},{"g":"E","w":4880,"f":0.01},{"g":"E","w":4884,"f":-0.006},{"g":"E","w":4888,"f":0.008},{"g":"E","w":4892,"f":-0.005},{"g":"E","w":4896,"f":0.015},{"g":"E","w":4900,"f":-0.004},{"g":"E","w":4904,"f":0.006},{"g":"E","w":4908,"f":-0.006},{"g":"E","w":4912,"f":0.008},{"g":"E","w":4916,"f":-0.004},{"g":"E","w":4920,"f":0.01},{"g":"E","w":4924,"f":0.0},{"g":"E","w":4928,"f":0.006},{"g":"E","w":4932,"f":-0.008},{"g":"E","w":4936,"f":0.008},{"g":"E","w":4940,"f":-0.004},{"g":"E","w":4944,"f":0.006},{"g":"E","w":4948,"f":-0.006},{"g":"E","w":4952,"f":0.004},{"g":"E","w":4956,"f":-0.01},{"g":"E","w":4960,"f":0.008},{"g":"E","w":4964,"f":-0.004},{"g":"E","w":4968,"f":0.006},{"g":"E","w":4972,"f":-0.008},{"g":"E","w":4976,"f":0.004},{"g":"E","w":4980,"f":-0.006},{"g":"E","w":4984,"f":0.01},{"g":"E","w":4988,"f":-0.004},{"g":"E","w":4992,"f":0.006},{"g":"E","w":4996,"f":-0.008},{"g":"E","w":5000,"f":0.004},{"g":"E","w":5004,"f":-0.004},{"g":"E","w":5008,"f":0.008},{"g":"E","w":5012,"f":-0.006},{"g":"E","w":5016,"f":0.01},{"g":"E","w":5020,"f":-0.004},{"g":"E","w":5024,"f":0.006},{"g":"E","w":5028,"f":-0.01},{"g":"E","w":5032,"f":0.004},{"g":"E","w":5036,"f":-0.004},{"g":"E","w":5040,"f":0.008},{"g":"E","w":5044,"f":-0.006},{"g":"E","w":5048,"f":0.006},{"g":"E","w":5052,"f":-0.008},{"g":"E","w":5056,"f":0.006},{"g":"E","w":5060,"f":-0.004},{"g":"E","w":5064,"f":0.01},{"g":"E","w":5068,"f":-0.006},{"g":"E","w":5072,"f":0.004},{"g":"E","w":5076,"f":-0.008},{"g":"E","w":5080,"f":0.006},{"g":"E","w":5084,"f":-0.004},{"g":"E","w":5088,"f":0.008},{"g":"E","w":5092,"f":-0.006},{"g":"E","w":5096,"f":0.004},{"g":"E","w":5100,"f":-0.01},{"g":"E","w":5104,"f":0.006},{"g":"E","w":5108,"f":-0.004},{"g":"E","w":5112,"f":0.008},{"g":"E","w":5116,"f":-0.006},{"g":"E","w":5120,"f":0.01},{"g":"E","w":5124,"f":-0.004},{"g":"E","w":5128,"f":0.006},{"g":"E","w":5132,"f":-0.008},{"g":"E","w":5136,"f":0.004},{"g":"E","w":5140,"f":-0.006},{"g":"E","w":5144,"f":0.008},{"g":"E","w":5148,"f":-0.004},{"g":"E","w":5152,"f":0.012},{"g":"E","w":5156,"f":-0.006},{"g":"E","w":5160,"f":0.004},{"g":"E","w":5164,"f":-0.008},{"g":"E","w":5168,"f":0.006},{"g":"E","w":5172,"f":-0.004},{"g":"E","w":5176,"f":0.01},{"g":"E","w":5180,"f":-0.006},{"g":"E","w":5184,"f":0.008},{"g":"E","w":5188,"f":-0.01},{"g":"E","w":5192,"f":0.012},{"g":"E","w":5196,"f":-0.004},{"g":"E","w":5198,"f":0.006},
{"g":"F","w":6300,"f":-0.025},{"g":"F","w":6302,"f":0.01},{"g":"F","w":6306,"f":-0.002},{"g":"F","w":6310,"f":0.006},{"g":"F","w":6315,"f":-0.004},{"g":"F","w":6320,"f":0.005},{"g":"F","w":6325,"f":-0.003},{"g":"F","w":6330,"f":0.004},{"g":"F","w":6335,"f":-0.005},{"g":"F","w":6340,"f":0.003},{"g":"F","w":6345,"f":-0.002},{"g":"F","w":6350,"f":0.005},{"g":"F","w":6355,"f":-0.004},{"g":"F","w":6360,"f":0.002},{"g":"F","w":6365,"f":-0.003},{"g":"F","w":6370,"f":0.004},{"g":"F","w":6375,"f":-0.002},{"g":"F","w":6380,"f":0.003},{"g":"F","w":6385,"f":-0.004},{"g":"F","w":6390,"f":0.002},{"g":"F","w":6395,"f":-0.003},{"g":"F","w":6400,"f":0.004},{"g":"F","w":6405,"f":-0.002},{"g":"F","w":6410,"f":0.003},{"g":"F","w":6415,"f":-0.004},{"g":"F","w":6420,"f":0.002},{"g":"F","w":6425,"f":-0.003},{"g":"F","w":6430,"f":0.003},{"g":"F","w":6435,"f":-0.002},{"g":"F","w":6440,"f":0.003},{"g":"F","w":6445,"f":-0.004},{"g":"F","w":6450,"f":0.002},{"g":"F","w":6455,"f":-0.003},{"g":"F","w":6460,"f":0.01},{"g":"F","w":6465,"f":-0.004},{"g":"F","w":6470,"f":0.005},{"g":"F","w":6475,"f":-0.003},{"g":"F","w":6480,"f":0.004},{"g":"F","w":6485,"f":-0.002},{"g":"F","w":6490,"f":0.003},{"g":"F","w":6495,"f":-0.004},{"g":"F","w":6500,"f":0.003},{"g":"F","w":6505,"f":-0.002},{"g":"F","w":6510,"f":0.004},{"g":"F","w":6515,"f":-0.003},{"g":"F","w":6520,"f":0.002},{"g":"F","w":6525,"f":-0.004},{"g":"F","w":6530,"f":0.003},{"g":"F","w":6535,"f":-0.002},{"g":"F","w":6540,"f":0.004},{"g":"F","w":6545,"f":-0.003},{"g":"F","w":6550,"f":0.003},{"g":"F","w":6555,"f":-0.004},{"g":"F","w":6560,"f":0.005},{"g":"F","w":6565,"f":-0.002},{"g":"F","w":6570,"f":0.003},{"g":"F","w":6575,"f":-0.004},{"g":"F","w":6580,"f":0.002},{"g":"F","w":6585,"f":-0.003},{"g":"F","w":6590,"f":0.004},{"g":"F","w":6595,"f":-0.002},{"g":"F","w":6600,"f":0.003},{"g":"F","w":6605,"f":-0.004},{"g":"F","w":6610,"f":0.002},{"g":"F","w":6615,"f":-0.003},{"g":"F","w":6620,"f":0.004},{"g":"F","w":6625,"f":-0.002},{"g":"F","w":6630,"f":0.006},{"g":"F","w":6635,"f":-0.003},{"g":"F","w":6640,"f":0.002},{"g":"F","w":6645,"f":-0.004},{"g":"F","w":6650,"f":0.003},{"g":"F","w":6655,"f":-0.002},{"g":"F","w":6660,"f":0.004},{"g":"F","w":6665,"f":-0.003},{"g":"F","w":6670,"f":0.002},{"g":"F","w":6675,"f":-0.004},{"g":"F","w":6680,"f":0.003},{"g":"F","w":6685,"f":-0.002},{"g":"F","w":6690,"f":0.004},{"g":"F","w":6695,"f":-0.003},{"g":"F","w":6700,"f":0.002},{"g":"F","w":6705,"f":-0.004},{"g":"F","w":6710,"f":0.003},{"g":"F","w":6715,"f":-0.002},{"g":"F","w":6720,"f":0.004},{"g":"F","w":6725,"f":-0.003},{"g":"F","w":6730,"f":0.002},{"g":"F","w":6735,"f":-0.004},{"g":"F","w":6740,"f":0.005},{"g":"F","w":6745,"f":-0.002},{"g":"F","w":6750,"f":0.003},{"g":"F","w":6755,"f":-0.004},{"g":"F","w":6760,"f":0.002},{"g":"F","w":6765,"f":-0.003},{"g":"F","w":6770,"f":0.004},{"g":"F","w":6772,"f":-0.002}
],
"labels": [
{"label":"Observation","w":5263,"f":0.539},
{"label":"Composite model","w":5263,"f":0.481},
{"label":"Primary","w":5263,"f":0.2586},
{"label":"Secondary","w":5263,"f":0.203},
{"label":"Residual","w":5263,"f":-0.0173}
],
"marker": [{"w":6563,"f0":0,"f1":0.3}],
"hlabel": [{"w":6676,"f":0.0175,"label":"Hα"}]
},
"layer": [
{
"layer": [
{"data": {"name": "res"}, "mark": {"type": "line", "color": "#c8c8c8", "strokeWidth": 1},
 "encoding": {
  "x": {"field": "w", "type": "quantitative", "scale": {"domain": [3700, 6850], "nice": false, "zero": false},
        "axis": {"orient": "bottom", "values": [4000,4500,5000,5500,6000,6500], "format": "d", "tickSize": -5, "labelPadding": 21, "labelFont": "Liberation Serif", "labelFontSize": 22, "domain": false, "title": "Wavelength, Å", "titleFont": "Liberation Serif", "titleFontSize": 24, "titleFontWeight": "normal", "titleX": 601, "titleY": 68, "titleAlign": "center", "titleBaseline": "alphabetic"}},
  "y": {"field": "f", "type": "quantitative", "scale": {"domain": [-0.1, 1.0], "nice": false, "zero": false},
        "axis": {"orient": "left", "values": [0,0.2,0.4,0.6,0.8,1.0], "labelExpr": "datum.value == 0 ? '0' : format(datum.value, '.1f')", "tickSize": -5, "labelPadding": 21, "labelFont": "Liberation Serif", "labelFontSize": 22, "domain": false, "title": "Relative flux", "titleFont": "Liberation Serif", "titleFontSize": 24, "titleFontWeight": "normal", "titleAngle": -90, "titleX": -77, "titleY": 253.5, "titleAlign": "center", "titleBaseline": "middle"}},
  "detail": {"field": "g", "type": "nominal"}}},
{"data": {"name": "obs"}, "mark": {"type": "line", "color": "#9a9a9a", "strokeWidth": 1},
 "encoding": {
  "x": {"field": "w", "type": "quantitative", "scale": {"domain": [3700, 6850], "nice": false, "zero": false},
        "axis": {"orient": "bottom", "values": [3800,3900,4100,4200,4300,4400,4600,4700,4800,4900,5100,5200,5300,5400,5600,5700,5800,5900,6100,6200,6300,6400,6600,6700,6800], "tickSize": -3, "labels": false, "domain": false, "title": null}},
  "y": {"field": "f", "type": "quantitative", "scale": {"domain": [-0.1, 1.0], "nice": false, "zero": false},
        "axis": {"orient": "right", "values": [0,0.2,0.4,0.6,0.8,1.0], "tickSize": -5, "labels": false, "domain": false, "title": null}},
  "detail": {"field": "g", "type": "nominal"}}},
{"data": {"name": "comp"}, "mark": {"type": "line", "color": "#000000", "strokeWidth": 1.4},
 "encoding": {
  "x": {"field": "w", "type": "quantitative", "scale": {"domain": [3700, 6850], "nice": false, "zero": false},
        "axis": {"orient": "top", "values": [4000,4500,5000,5500,6000,6500], "tickSize": -5, "labels": false, "domain": false, "title": null}},
  "y": {"field": "f", "type": "quantitative", "scale": {"domain": [-0.1, 1.0], "nice": false, "zero": false}, "axis": null},
  "detail": {"field": "g", "type": "nominal"}}},
{"data": {"name": "prim"}, "mark": {"type": "line", "color": "#0000ff", "strokeWidth": 1.2},
 "encoding": {
  "x": {"field": "w", "type": "quantitative", "scale": {"domain": [3700, 6850], "nice": false, "zero": false},
        "axis": {"orient": "top", "values": [3800,3900,4100,4200,4300,4400,4600,4700,4800,4900,5100,5200,5300,5400,5600,5700,5800,5900,6100,6200,6300,6400,6600,6700,6800], "tickSize": -3, "labels": false, "domain": false, "title": null}},
  "y": {"field": "f", "type": "quantitative", "scale": {"domain": [-0.1, 1.0], "nice": false, "zero": false}, "axis": null},
  "detail": {"field": "g", "type": "nominal"}}},
{"data": {"name": "sec"}, "mark": {"type": "line", "color": "#ff0000", "strokeWidth": 1.2},
 "encoding": {
  "x": {"field": "w", "type": "quantitative", "scale": {"domain": [3700, 6850], "nice": false, "zero": false}, "axis": null},
  "y": {"field": "f", "type": "quantitative", "scale": {"domain": [-0.1, 1.0], "nice": false, "zero": false}, "axis": null},
  "detail": {"field": "g", "type": "nominal"}}},
{"data": {"name": "labels"}, "mark": {"type": "text", "align": "left", "baseline": "alphabetic", "fontSize": 24, "font": "Liberation Serif"},
 "encoding": {
  "x": {"field": "w", "type": "quantitative", "scale": {"domain": [3700, 6850], "nice": false, "zero": false}, "axis": null},
  "y": {"field": "f", "type": "quantitative", "scale": {"domain": [-0.1, 1.0], "nice": false, "zero": false}, "axis": null},
  "text": {"field": "label"},
  "color": {"field": "label", "type": "nominal", "scale": {"domain": ["Observation","Composite model","Primary","Secondary","Residual"], "range": ["#9a9a9a","#000000","#0000ff","#ff0000","#c8c8c8"]}, "legend": null}}}
],
"resolve": {"axis": {"x": "independent", "y": "independent"}}
},
{
"layer": [
{"data": {"name": "marker"}, "mark": {"type": "rule", "color": "#c8c8c8", "strokeWidth": 1.5},
 "encoding": {
  "x": {"field": "w", "type": "quantitative", "scale": {"domain": [6440, 6680], "range": [989, 1235.3], "nice": false, "zero": false},
        "axis": {"orient": "bottom", "offset": -231.7, "values": [6500, 6600], "format": "d", "tickSize": -5, "labelPadding": 19, "labelFont": "Liberation Serif", "labelFontSize": 16, "domain": true, "title": null}},
  "y": {"field": "f0", "type": "quantitative", "scale": {"domain": [0, 0.3], "range": [275.3, 29.3], "nice": false, "zero": false},
        "axis": {"orient": "left", "offset": -989, "values": [0,0.05,0.1,0.15,0.2,0.25,0.3], "labelExpr": "datum.value == 0 ? '0' : format(datum.value, '.2f')", "tickSize": -5, "labelPadding": 16, "labelFont": "Liberation Serif", "labelFontSize": 16, "domain": true, "title": null}},
  "y2": {"field": "f1"}}},
{"data": {"name": "obs"}, "transform": [{"filter": "datum.w >= 6440 && datum.w <= 6680"}], "mark": {"type": "line", "color": "#9a9a9a", "strokeWidth": 1},
 "encoding": {
  "x": {"field": "w", "type": "quantitative", "scale": {"domain": [6440, 6680], "range": [989, 1235.3], "nice": false, "zero": false},
        "axis": {"orient": "bottom", "offset": -231.7, "values": [6460,6480,6520,6540,6560,6580,6620,6640,6660], "tickSize": -3, "labels": false, "domain": false, "title": null}},
  "y": {"field": "f", "type": "quantitative", "scale": {"domain": [0, 0.3], "range": [275.3, 29.3], "nice": false, "zero": false},
        "axis": {"orient": "right", "offset": -32.7, "values": [0,0.05,0.1,0.15,0.2,0.25,0.3], "tickSize": -5, "labels": false, "domain": true, "title": null}}}},
{"data": {"name": "comp"}, "transform": [{"filter": "datum.w >= 6440 && datum.w <= 6680"}], "mark": {"type": "line", "color": "#000000", "strokeWidth": 1.4},
 "encoding": {
  "x": {"field": "w", "type": "quantitative", "scale": {"domain": [6440, 6680], "range": [989, 1235.3], "nice": false, "zero": false},
        "axis": {"orient": "top", "offset": -29.3, "values": [6500, 6600], "tickSize": -5, "labels": false, "domain": true, "title": null}},
  "y": {"field": "f", "type": "quantitative", "scale": {"domain": [0, 0.3], "range": [275.3, 29.3], "nice": false, "zero": false}, "axis": null}}},
{"data": {"name": "prim"}, "transform": [{"filter": "datum.w >= 6440 && datum.w <= 6680"}], "mark": {"type": "line", "color": "#0000ff", "strokeWidth": 1.2},
 "encoding": {
  "x": {"field": "w", "type": "quantitative", "scale": {"domain": [6440, 6680], "range": [989, 1235.3], "nice": false, "zero": false},
        "axis": {"orient": "top", "offset": -29.3, "values": [6460,6480,6520,6540,6560,6580,6620,6640,6660], "tickSize": -3, "labels": false, "domain": false, "title": null}},
  "y": {"field": "f", "type": "quantitative", "scale": {"domain": [0, 0.3], "range": [275.3, 29.3], "nice": false, "zero": false}, "axis": null}}},
{"data": {"name": "sec"}, "transform": [{"filter": "datum.w >= 6440 && datum.w <= 6680"}], "mark": {"type": "line", "color": "#ff0000", "strokeWidth": 1.2},
 "encoding": {
  "x": {"field": "w", "type": "quantitative", "scale": {"domain": [6440, 6680], "range": [989, 1235.3], "nice": false, "zero": false}, "axis": null},
  "y": {"field": "f", "type": "quantitative", "scale": {"domain": [0, 0.3], "range": [275.3, 29.3], "nice": false, "zero": false}, "axis": null}}},
{"data": {"name": "hlabel"}, "mark": {"type": "text", "align": "right", "baseline": "alphabetic", "fontSize": 27, "font": "Liberation Serif", "color": "#000000"},
 "encoding": {
  "x": {"field": "w", "type": "quantitative", "scale": {"domain": [6440, 6680], "range": [989, 1235.3], "nice": false, "zero": false}, "axis": null},
  "y": {"field": "f", "type": "quantitative", "scale": {"domain": [0, 0.3], "range": [275.3, 29.3], "nice": false, "zero": false}, "axis": null},
  "text": {"field": "label"}}}
],
"resolve": {"axis": {"x": "independent", "y": "independent"}}
}
],
"resolve": {"scale": {"x": "independent", "y": "independent", "color": "independent"}, "axis": {"x": "independent", "y": "independent"}}
}
